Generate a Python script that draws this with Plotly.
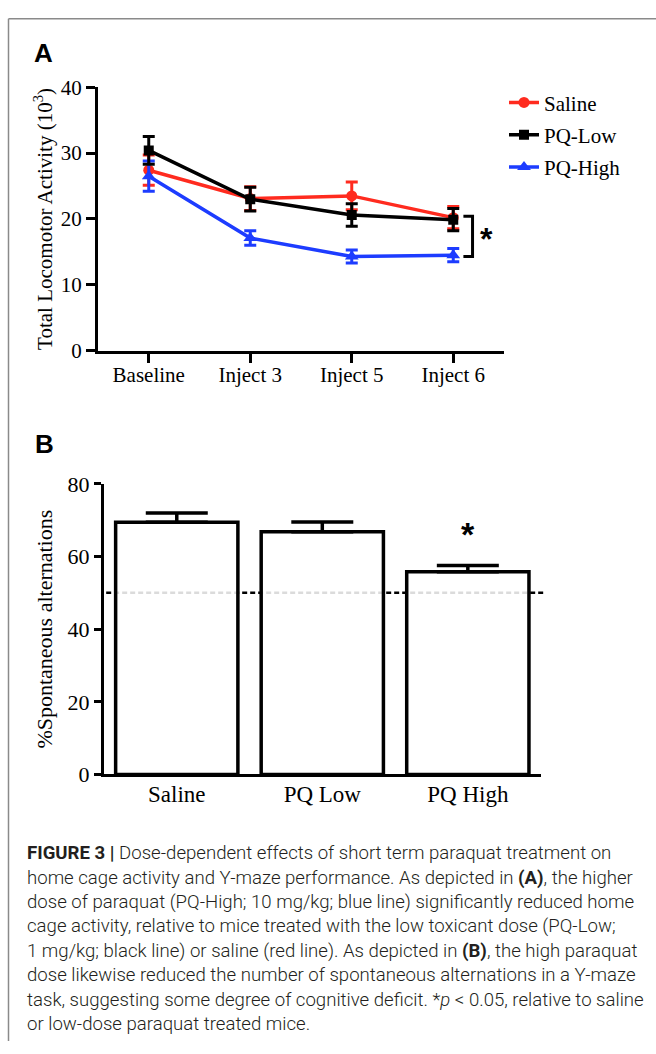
import plotly.graph_objects as go

# ---------------- data ----------------
timepoints = ["Baseline", "Inject 3", "Inject 5", "Inject 6"]
saline_mean = [27.4, 23.1, 23.5, 20.2]
saline_sem = [2.3, 1.8, 2.1, 1.7]
pqlow_mean = [30.4, 23.0, 20.6, 19.9]
pqlow_sem = [2.1, 1.8, 1.7, 1.7]
pqhigh_mean = [26.5, 17.1, 14.3, 14.5]
pqhigh_sem = [2.3, 1.1, 1.0, 1.0]

groups_b = ["Saline", "PQ Low", "PQ High"]
alt_mean = [69.4, 66.8, 55.8]
alt_sem = [2.6, 2.7, 1.7]
chance_level = 50

caption_lines = [
    "<b>FIGURE 3 |</b> Dose-dependent effects of short term paraquat treatment on",
    "home cage activity and Y-maze performance. As depicted in <b>(A)</b>, the higher",
    "dose of paraquat (PQ-High; 10 mg/kg; blue line) significantly reduced home",
    "cage activity, relative to mice treated with the low toxicant dose (PQ-Low;",
    "1 mg/kg; black line) or saline (red line). As depicted in <b>(B)</b>, the high paraquat",
    "dose likewise reduced the number of spontaneous alternations in a Y-maze",
    "task, suggesting some degree of cognitive deficit. *<i>p</i> &lt; 0.05, relative to saline",
    "or low-dose paraquat treated mice.",
]

W, H = 656, 1054
RED = "#ff2b1f"
BLUE = "#1d3cff"
BLACK = "#000000"
SERIF = "Liberation Serif, Times New Roman, serif"
SANS = "Liberation Sans, Arial, sans-serif"


def px_x(p):
    return p / W


def px_y(p):
    return 1 - p / H


fig = go.Figure()

series = [
    ("Saline", saline_mean, saline_sem, RED, "circle", 11, 1),
    ("PQ-High", pqhigh_mean, pqhigh_sem, BLUE, "triangle-up", 12, 3),
    ("PQ-Low", pqlow_mean, pqlow_sem, BLACK, "square", 10, 2),
]
for name, m, e, c, sym, sz, rank in series:
    fig.add_trace(go.Scatter(
        x=timepoints, y=m, name=name, mode="lines+markers",
        line=dict(color=c, width=3.5),
        marker=dict(color=c, symbol=sym, size=sz),
        error_y=dict(type="data", array=e, visible=True, color=c,
                     thickness=3, width=6),
        legendgroup=name, legendrank=rank,
        xaxis="x", yaxis="y",
    ))

fig.add_trace(go.Bar(
    x=groups_b, y=alt_mean, width=0.84,
    marker=dict(color="rgba(255,255,255,0.86)", line=dict(color=BLACK, width=3.5)),
    error_y=dict(type="data", array=alt_sem, arrayminus=[0] * len(alt_sem),
                 symmetric=False, visible=True, color=BLACK, thickness=3.5, width=31),
    showlegend=False, xaxis="x2", yaxis="y2",
))

axis_common = dict(showline=True, linecolor=BLACK, linewidth=3, showgrid=False,
                   zeroline=False, ticks="outside", tickcolor=BLACK, tickwidth=3,
                   mirror=False)

fig.update_layout(
    width=W, height=H, autosize=False,
    margin=dict(l=0, r=0, t=0, b=0),
    paper_bgcolor="white", plot_bgcolor="white",
    xaxis=dict(domain=[px_x(98), px_x(504)], anchor="y", type="category",
               range=[-0.5, 3.5], ticklen=9, ticklabelstandoff=-6,
               tickfont=dict(family=SERIF, size=21, color=BLACK), **axis_common),
    yaxis=dict(domain=[px_y(347), px_y(77)], anchor="x", range=[0, 40],
               tickvals=[0, 10, 20, 30, 40], ticklen=9,
               tickfont=dict(family=SERIF, size=21, color=BLACK),
               title=dict(text="Total Locomotor Activity (10<sup>3</sup>)",
                          font=dict(family=SERIF, size=21, color=BLACK), standoff=3),
               **axis_common),
    xaxis2=dict(domain=[px_x(104), px_x(540.6)], anchor="y2", type="category",
                range=[-0.5, 2.5], showline=True, linecolor=BLACK, linewidth=3,
                showgrid=False, zeroline=False, ticks="", ticklen=0,
                ticklabelstandoff=-3,
                tickfont=dict(family=SERIF, size=23, color=BLACK)),
    yaxis2=dict(domain=[px_y(781), px_y(483.3)], anchor="x2", range=[0, 80],
                tickvals=[0, 20, 40, 60, 80], showline=True, linecolor=BLACK,
                linewidth=3, showgrid=False, zeroline=False, ticks="outside",
                tickcolor=BLACK, tickwidth=3, ticklen=7,
                tickfont=dict(family=SERIF, size=22, color=BLACK),
                title=dict(text="%Spontaneous alternations",
                           font=dict(family=SERIF, size=22, color=BLACK), standoff=9)),
    legend=dict(x=px_x(504), y=px_y(72), xanchor="left", yanchor="top",
                font=dict(family=SERIF, size=21, color=BLACK),
                bgcolor="rgba(0,0,0,0)", traceorder="grouped", tracegroupgap=2),
    showlegend=True,
)

shapes = [
    # page frame
    dict(type="line", xref="paper", yref="paper", x0=px_x(8.5), x1=1,
         y0=px_y(7), y1=px_y(7), line=dict(color="#8a8a8a", width=1.5)),
    dict(type="line", xref="paper", yref="paper", x0=px_x(8.5), x1=px_x(8.5),
         y0=0, y1=px_y(7), line=dict(color="#8a8a8a", width=1.5)),
    # significance bracket (panel A)
    dict(type="path", xref="x", yref="y",
         path="M 3.10,20.4 L 3.19,20.4 L 3.19,14.3 L 3.10,14.3",
         line=dict(color=BLACK, width=3)),
    # chance level line (panel B)
    dict(type="line", xref="x2 domain", yref="y2", x0=0.005, x1=1.006,
         y0=chance_level, y1=chance_level, layer="below",
         line=dict(color=BLACK, width=2.5, dash="5px,3px")),
]
fig.update_layout(shapes=shapes)

annotations = [
    dict(text="<b>A</b>", xref="paper", yref="paper", x=px_x(32), y=px_y(42),
         xanchor="left", yanchor="middle", showarrow=False,
         font=dict(family=SANS, size=26, color=BLACK)),
    dict(text="<b>B</b>", xref="paper", yref="paper", x=px_x(33), y=px_y(442),
         xanchor="left", yanchor="middle", showarrow=False,
         font=dict(family=SANS, size=26, color=BLACK)),
    dict(text="<b>*</b>", xref="x", yref="y", x=3.33, y=17.35, yshift=-3,
         xanchor="center", yanchor="middle", showarrow=False,
         font=dict(family=SANS, size=32, color=BLACK)),
    dict(text="<b>*</b>", xref="x2", yref="y2", x=2, y=alt_mean[2] + alt_sem[2] + 9.2,
         yshift=-2, xanchor="center", yanchor="middle", showarrow=False,
         font=dict(family=SANS, size=34, color=BLACK)),
]
for i, line in enumerate(caption_lines):
    annotations.append(dict(
        text=line, xref="paper", yref="paper", x=px_x(25), y=px_y(861.7 + 25 * i),
        xanchor="left", yanchor="middle", showarrow=False, align="left",
        font=dict(family="Roboto, Liberation Sans, sans-serif", size=18.6,
                  color="#231f20", weight=300)))
fig.update_layout(annotations=annotations)

fig.write_html("out.html", config={"displayModeBar": False},
               post_script="document.body.style.margin='0px';document.body.style.overflow='hidden';")
